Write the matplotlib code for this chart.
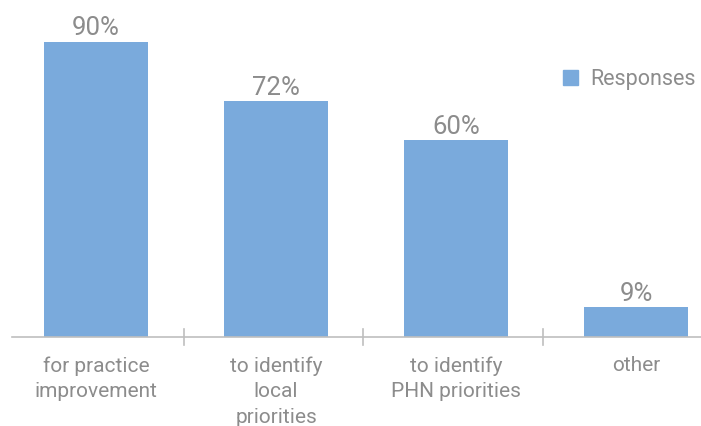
import matplotlib.pyplot as plt
from matplotlib.patches import Patch

categories = ["for practice\nimprovement", "to identify\nlocal\npriorities",
              "to identify\nPHN priorities", "other"]
responses = [90, 72, 60, 9]
value_labels = ["90%", "72%", "60%", "9%"]

bar_color = "#7aaadc"
text_color = "#8c8c8c"
axis_color = "#bfbfbf"

plt.rcParams['font.family'] = ['Roboto', 'DejaVu Sans']

fig = plt.figure(figsize=(7.01, 4.26), dpi=100)
ax = fig.add_axes([12 / 701, 89 / 426, 689 / 701, 328 / 426])

x = list(range(len(categories)))
bars = ax.bar(x, responses, width=0.578, color=bar_color, label="Responses")

for xi, v, lab in zip(x, responses, value_labels):
    ax.text(xi, v + 0.4, lab, ha="center", va="bottom", fontsize=18.5, color=text_color)

ax.set_xlim(-0.467, 3.361)
ax.set_ylim(0, 100)

for side in ["left", "right", "top"]:
    ax.spines[side].set_visible(False)
ax.spines["bottom"].set_color(axis_color)
ax.spines["bottom"].set_linewidth(1.2)

ax.set_yticks([])
ax.set_xticks(x)
ax.set_xticklabels(categories, fontsize=15, color=text_color,
                   linespacing=1.42, multialignment="center")
ax.tick_params(axis="x", length=0, pad=14)

# separators between categories
for b in [0.49, 1.485, 2.485]:
    ax.plot([b, b], [0, -2.5], color=axis_color, lw=1.2, clip_on=False)
    ax.plot([b, b], [0, 2.5], color=axis_color, lw=1.2, clip_on=False)

ax.legend(handles=[Patch(color=bar_color, label="Responses")], loc="upper left",
          bbox_to_anchor=(0.772, 0.875), frameon=False, fontsize=15.5,
          labelcolor=text_color, handlelength=0.7, handleheight=0.7,
          handletextpad=0.55)

fig.savefig("out.png", dpi=100)
